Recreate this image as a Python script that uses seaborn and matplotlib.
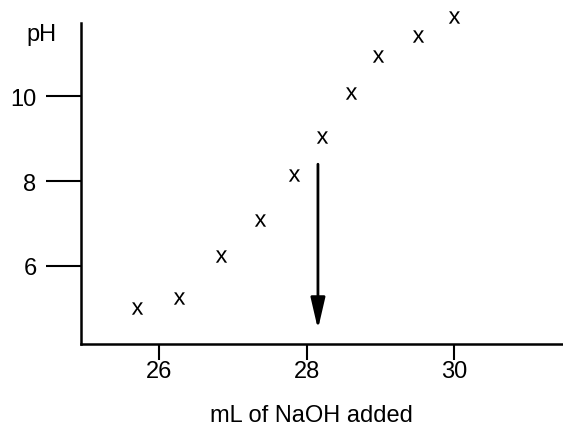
import matplotlib
matplotlib.use("Agg")
import matplotlib.pyplot as plt
import seaborn as sns

# titration readings
ml_naoh = [25.70, 26.27, 26.83, 27.37, 27.83, 28.21, 28.60, 28.96, 29.50, 30.00]
ph_vals = [5.00, 5.25, 6.23, 7.08, 8.15, 9.05, 10.07, 10.94, 11.43, 11.88]
x_ticks = [26, 28, 30]
y_ticks = [6, 8, 10]
equiv_ml = 28.15
arrow_top, arrow_tip = 8.40, 4.51

sns.set_style("ticks")
plt.rcParams['font.family'] = ['Liberation Sans', 'DejaVu Sans']
plt.rcParams['mathtext.fontset'] = 'custom'
plt.rcParams['mathtext.rm'] = 'Liberation Sans'
plt.rcParams['text.color'] = 'black'
plt.rcParams['axes.labelcolor'] = 'black'

fig = plt.figure(figsize=(5.63, 4.27), dpi=100)
ax = fig.add_axes([0.1439, 0.192, 0.8561, 0.7518])

sns.scatterplot(x=ml_naoh, y=ph_vals, ax=ax, marker=r"$\mathregular{x}$", s=80,
                color="black", linewidth=0, clip_on=False)

ax.annotate("", xy=(equiv_ml, arrow_tip), xytext=(equiv_ml, arrow_top),
            arrowprops=dict(arrowstyle="-|>,head_length=0.95,head_width=0.22",
                            color="black", lw=2, shrinkA=0, shrinkB=0, mutation_scale=20))

ax.set_xlim(24.94, 31.47)
ax.set_ylim(4.16, 11.73)
ax.set_xticks(x_ticks)
ax.set_yticks(y_ticks)
sns.despine(ax=ax)
for s in ["left", "bottom"]:
    ax.spines[s].set_linewidth(1.8)
    ax.spines[s].set_color("black")

ax.tick_params(axis="y", direction="out", length=25, width=1.5, pad=7, labelsize=17, colors="black")
ax.tick_params(axis="x", direction="out", length=11.5, width=1.5, pad=0, labelsize=17, colors="black")

ax.set_xlabel("mL of NaOH added", fontsize=17, color="black")
ax.xaxis.set_label_coords(0.479, -0.221)
ax.xaxis.label.set_va("center")
fig.text(41 / 563, 1 - 35 / 427, "pH", fontsize=17, ha="center", va="center", color="black")

fig.savefig("out.png", dpi=100)
